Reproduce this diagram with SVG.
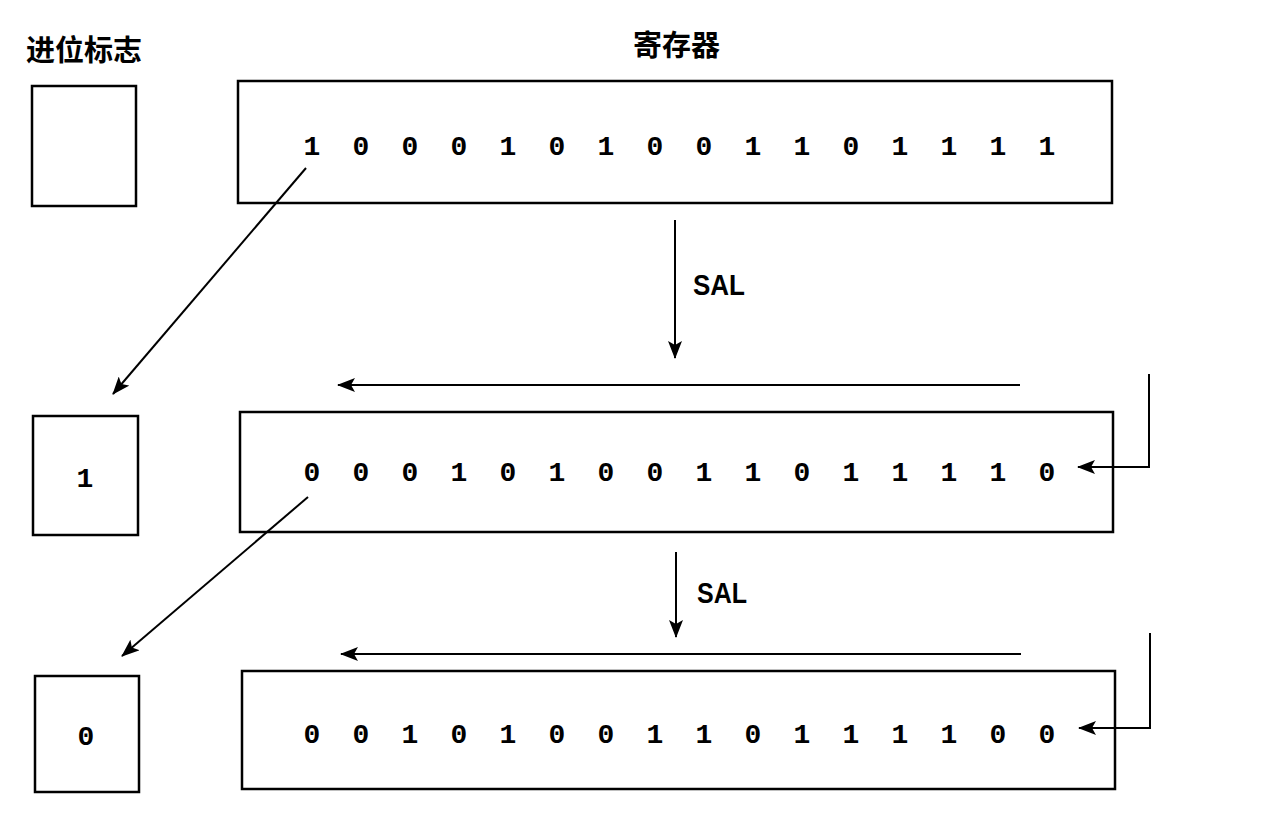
<svg xmlns="http://www.w3.org/2000/svg" width="1278" height="826" viewBox="0 0 1278 826">
<style>
.box{fill:#fff;stroke:#000;stroke-width:2.5}
.bits{font-family:"Liberation Mono","DejaVu Sans Mono",monospace;font-size:28px;font-weight:bold;fill:#000;text-anchor:middle}
.title{font-family:"Noto Sans CJK SC",sans-serif;font-size:29px;font-weight:bold;fill:#000}
.op{font-family:"Liberation Sans",Arial,sans-serif;font-size:30px;font-weight:bold;fill:#000}
.conn{fill:none;stroke:#000;stroke-width:2;marker-end:url(#arr)}
</style>
<defs>
<marker id="arr" markerUnits="userSpaceOnUse" markerWidth="18" markerHeight="14" viewBox="0 0 18 14" refX="17" refY="7" orient="auto">
<path d="M0,0 L18,7 L0,14 L4,7 Z" fill="#000"/>
</marker>
</defs>
<rect width="1278" height="826" fill="#fff"/>
<g id="labels">
<text class="title" x="26" y="61">进位标志</text>
<text class="title" x="633" y="56">寄存器</text>
</g>
<g id="carry1"><rect class="box" x="32" y="86" width="104" height="120"/></g>
<g id="reg1"><rect class="box" x="238" y="81" width="874" height="122"/>
<text class="bits" x="312 361 410 459 508 557 606 655 704 753 802 851 900 949 998 1047" y="155">1000101001101111</text></g>
<g id="carry2"><rect class="box" x="33" y="416" width="105" height="119"/>
<text class="bits" x="85" y="487">1</text></g>
<g id="reg2"><rect class="box" x="240" y="412" width="873" height="120"/>
<text class="bits" x="312 361 410 459 508 557 606 655 704 753 802 851 900 949 998 1047" y="481">0001010011011110</text></g>
<g id="carry3"><rect class="box" x="35" y="676" width="104" height="116"/>
<text class="bits" x="86" y="745">0</text></g>
<g id="reg3"><rect class="box" x="242" y="671" width="873" height="118"/>
<text class="bits" x="312 361 410 459 508 557 606 655 704 753 802 851 900 949 998 1047" y="743">0010100110111100</text></g>
<g id="connectors">
<line class="conn" x1="306" y1="168" x2="113" y2="394"/>
<line class="conn" x1="675" y1="220" x2="675" y2="358"/>
<line class="conn" x1="1020" y1="385" x2="338" y2="385"/>
<polyline class="conn" points="1149,374 1149,467 1078,467"/>
<line class="conn" x1="308" y1="497" x2="122" y2="656"/>
<line class="conn" x1="676" y1="552" x2="676" y2="637"/>
<line class="conn" x1="1021" y1="654" x2="341" y2="654"/>
<polyline class="conn" points="1150,633 1150,728 1079,728"/>
<text class="op" x="693" y="295" textLength="52" lengthAdjust="spacingAndGlyphs">SAL</text>
<text class="op" x="697" y="603" textLength="50" lengthAdjust="spacingAndGlyphs">SAL</text>
</g>
</svg>
